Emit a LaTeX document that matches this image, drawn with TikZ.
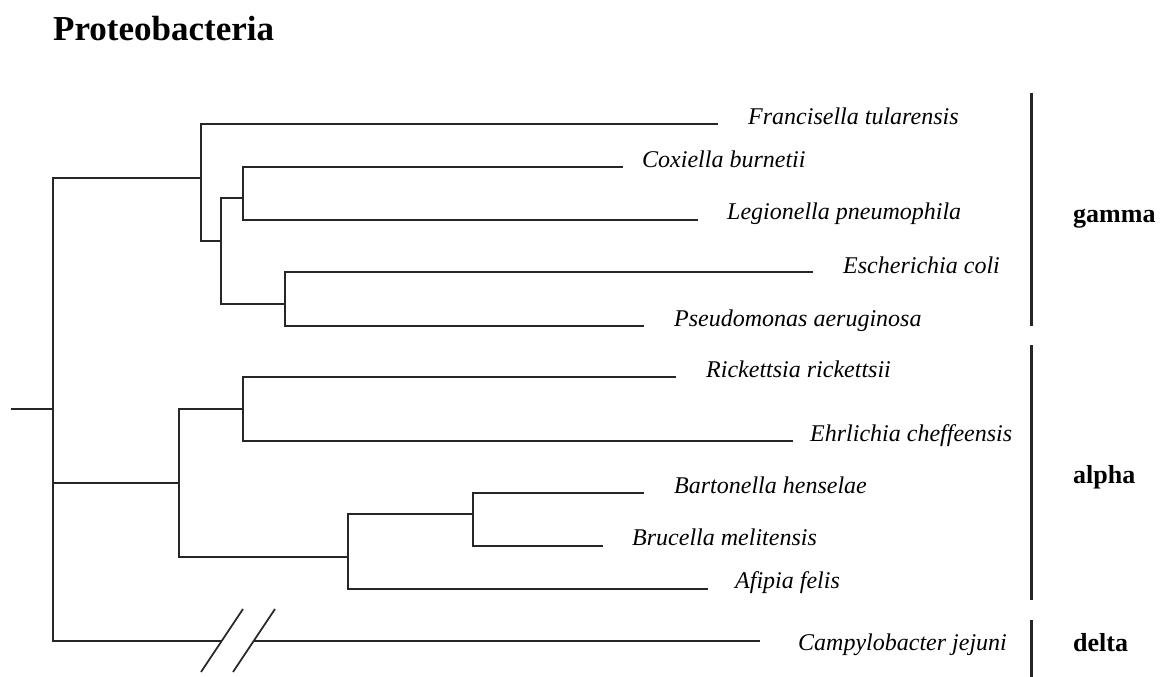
\documentclass[tikz,border=0pt]{standalone}
\usepackage{fontspec}
\setmainfont{Liberation Serif}
\begin{document}
\begin{tikzpicture}[x=1pt,y=-1pt,
  branch/.style={line width=1.7pt, black!85, line cap=rect},
  bar/.style={line width=3pt, black!85},
  taxon/.style={anchor=base west, inner sep=0pt, font=\fontsize{24}{28}\selectfont\itshape},
  group/.style={anchor=base west, inner sep=0pt, font=\fontsize{26}{30}\selectfont\bfseries},
  title/.style={anchor=base west, inner sep=0pt, font=\fontsize{35}{40}\selectfont\bfseries}]
\useasboundingbox[fill=white] (0,0) rectangle (1165,677);

% internal nodes
\coordinate (stub) at (12,409);
\coordinate (R) at (53,409);
\coordinate (G) at (201,178);
\coordinate (H) at (221,241);
\coordinate (I) at (243,198);
\coordinate (J) at (285,304);
\coordinate (A) at (179,483);
\coordinate (B) at (243,409);
\coordinate (C) at (348,557);
\coordinate (D) at (473,514);
\coordinate (k1) at (221,641);
\coordinate (k2) at (254,641);
% tips
\coordinate (tFr) at (717,124);
\coordinate (tCo) at (622,167);
\coordinate (tLe) at (697,220);
\coordinate (tEc) at (812,272);
\coordinate (tPs) at (643,326);
\coordinate (tRi) at (675,377);
\coordinate (tEh) at (792,441);
\coordinate (tBa) at (643,493);
\coordinate (tBr) at (602,546);
\coordinate (tAf) at (707,589);
\coordinate (tCa) at (759,641);
% break marks
\coordinate (s1a) at (201,672); \coordinate (s1b) at (243,609);
\coordinate (s2a) at (233,672); \coordinate (s2b) at (275,609);

\draw[branch] (stub) -- (R);
\draw[branch] (R) |- (G);
\draw[branch] (G) |- (tFr);
\draw[branch] (G) |- (H);
\draw[branch] (H) |- (I);
\draw[branch] (I) |- (tCo);
\draw[branch] (I) |- (tLe);
\draw[branch] (H) |- (J);
\draw[branch] (J) |- (tEc);
\draw[branch] (J) |- (tPs);
\draw[branch] (R) |- (A);
\draw[branch] (A) |- (B);
\draw[branch] (B) |- (tRi);
\draw[branch] (B) |- (tEh);
\draw[branch] (A) |- (C);
\draw[branch] (C) |- (D);
\draw[branch] (D) |- (tBa);
\draw[branch] (D) |- (tBr);
\draw[branch] (C) |- (tAf);
\draw[branch] (R) |- (k1);
\draw[branch] (k2) -- (tCa);
\draw[branch, line cap=butt] (s1a) -- (s1b);
\draw[branch, line cap=butt] (s2a) -- (s2b);

% labels
\node[title] (ttl) at (53,41) {Proteobacteria};
\node[taxon] (lFr) at (748,124) {Francisella tularensis};
\node[taxon] (lCo) at (642,167) {Coxiella burnetii};
\node[taxon] (lLe) at (727,219) {Legionella pneumophila};
\node[taxon] (lEc) at (843,273) {Escherichia coli};
\node[taxon] (lPs) at (674,326) {Pseudomonas aeruginosa};
\node[taxon] (lRi) at (706,377) {Rickettsia rickettsii};
\node[taxon] (lEh) at (810,441) {Ehrlichia cheffeensis};
\node[taxon] (lBa) at (674,493) {Bartonella henselae};
\node[taxon] (lBr) at (632,545) {Brucella melitensis};
\node[taxon] (lAf) at (735,588) {Afipia felis};
\node[taxon] (lCa) at (798,650) {Campylobacter jejuni};

% group bars
\coordinate (g1) at (1031,93);  \coordinate (g2) at (1031,326);
\coordinate (a1) at (1031,345); \coordinate (a2) at (1031,600);
\coordinate (d1) at (1031,620); \coordinate (d2) at (1031,677);
\draw[bar] (g1) -- (g2);
\draw[bar] (a1) -- (a2);
\draw[bar] (d1) -- (d2);
\node[group] (gG) at (1073,222) {gamma};
\node[group] (gA) at (1073,483) {alpha};
\node[group] (gD) at (1073,651) {delta};
\end{tikzpicture}
\end{document}
